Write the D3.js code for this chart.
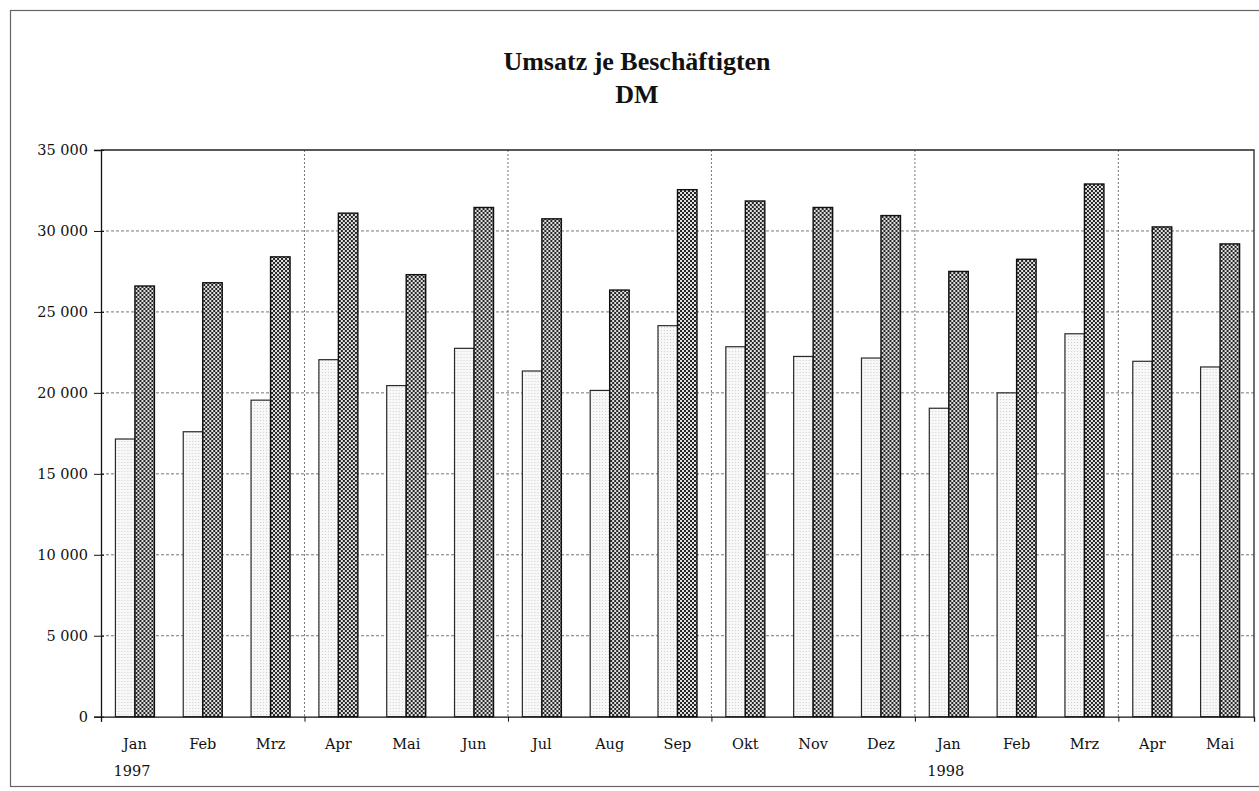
<!DOCTYPE html>
<html>
<head>
<meta charset="utf-8">
<script src="https://cdn.jsdelivr.net/npm/d3@7"></script>
<style>
  html, body { margin: 0; padding: 0; background: #ffffff; }
  svg { display: block; }
</style>
</head>
<body>
<svg id="chart" width="1259" height="791"></svg>
<script>
// Monthly categories, Jan 1997 – Mai 1998
const months = ["Jan","Feb","Mrz","Apr","Mai","Jun","Jul","Aug","Sep","Okt","Nov","Dez","Jan","Feb","Mrz","Apr","Mai"];
// Year shown under the first month of each year
const yearLabels = ["1997","","","","","","","","","","","","1998","","","",""];
// Light bars (first series), DM
const seriesLight = [17150, 17600, 19550, 22050, 20450, 22750, 21350, 20150, 24150, 22850, 22250, 22150, 19050, 20000, 23650, 21950, 21600];
// Dark bars (second series), DM
const seriesDark = [26600, 26800, 28400, 31100, 27300, 31450, 30750, 26350, 32550, 31850, 31450, 30950, 27500, 28250, 32900, 30250, 29200];
// Y axis ticks
const yTicks = [0, 5000, 10000, 15000, 20000, 25000, 30000, 35000];
const titleLines = ["Umsatz je Beschäftigten", "DM"];

const svg = d3.select("#chart");
const plot = { left: 101, top: 150, right: 1254, bottom: 716.7 };

// outer frame
svg.append("rect")
  .attr("x", 10.5).attr("y", 10.5)
  .attr("width", 1262).attr("height", 776)
  .attr("fill", "none").attr("stroke", "#666").attr("stroke-width", 1.2);

// fill patterns
const defs = svg.append("defs");
const pd = defs.append("pattern").attr("id", "dense")
  .attr("patternUnits", "userSpaceOnUse").attr("width", 4).attr("height", 4);
pd.append("rect").attr("width", 4).attr("height", 4).attr("fill", "#e0e0e0");
pd.append("rect").attr("x", 0).attr("y", 0).attr("width", 2).attr("height", 2).attr("fill", "#262626");
pd.append("rect").attr("x", 2).attr("y", 2).attr("width", 2).attr("height", 2).attr("fill", "#262626");

const pl = defs.append("pattern").attr("id", "light")
  .attr("patternUnits", "userSpaceOnUse").attr("width", 3).attr("height", 3);
pl.append("rect").attr("width", 3).attr("height", 3).attr("fill", "#f8f8f8");
pl.append("rect").attr("x", 0).attr("y", 0).attr("width", 1).attr("height", 1).attr("fill", "#cfcfcf");

// scales
const idx = d3.range(months.length);
const y = d3.scaleLinear().domain([0, 35000]).range([plot.bottom, plot.top]);
const xEdge = d3.scaleLinear().domain([0, months.length]).range([plot.left, plot.right]);
const pad = 0.425;
const xBand = d3.scaleBand().domain(idx).range([plot.left, plot.right])
  .paddingInner(pad).paddingOuter(pad / 2);
const xSub = d3.scaleBand().domain(["light", "dark"]).range([0, xBand.bandwidth()]);

// horizontal gridlines
svg.append("g").selectAll("line")
  .data(yTicks.filter(v => v > 0 && v < 35000))
  .join("line")
  .attr("x1", plot.left).attr("x2", plot.right)
  .attr("y1", d => y(d)).attr("y2", d => y(d))
  .attr("stroke", "#777").attr("stroke-width", 1)
  .attr("stroke-dasharray", "3,2");

// vertical gridlines every three months
const vGrid = [3, 6, 9, 12, 15];
svg.append("g").selectAll("line")
  .data(vGrid)
  .join("line")
  .attr("x1", d => xEdge(d)).attr("x2", d => xEdge(d))
  .attr("y1", plot.top).attr("y2", plot.bottom)
  .attr("stroke", "#777").attr("stroke-width", 1)
  .attr("stroke-dasharray", "2,2");

// bars
const groups = svg.append("g").selectAll("g")
  .data(idx)
  .join("g")
  .attr("transform", i => `translate(${xBand(i)},0)`);

groups.append("rect")
  .attr("x", xSub("light"))
  .attr("y", i => y(seriesLight[i]))
  .attr("width", xSub.bandwidth())
  .attr("height", i => y(0) - y(seriesLight[i]))
  .attr("fill", "url(#light)")
  .attr("stroke", "#2a2a2a").attr("stroke-width", 1.2);

groups.append("rect")
  .attr("x", xSub("dark"))
  .attr("y", i => y(seriesDark[i]))
  .attr("width", xSub.bandwidth())
  .attr("height", i => y(0) - y(seriesDark[i]))
  .attr("fill", "url(#dense)")
  .attr("stroke", "#111").attr("stroke-width", 1.4);

// plot frame top and right
svg.append("path")
  .attr("d", `M${plot.left},${plot.top}H${plot.right}V${plot.bottom}`)
  .attr("fill", "none").attr("stroke", "#222").attr("stroke-width", 1.3);

// y axis
const yAxis = svg.append("g")
  .attr("transform", `translate(${plot.left},0)`)
  .call(d3.axisLeft(y).tickValues(yTicks).tickSize(7).tickPadding(6)
    .tickFormat(v => d3.format(",")(v).replace(/,/g, " ")));
yAxis.select(".domain").attr("stroke", "#111").attr("stroke-width", 1.3);
yAxis.selectAll(".tick line").attr("stroke", "#111").attr("x2", -7).attr("x1", 3);
yAxis.selectAll(".tick text")
  .attr("font-family", "'DejaVu Serif', serif").attr("font-size", 14.5)
  .attr("fill", "#111");

// x axis line with ticks at quarter boundaries
const xTicks = svg.append("g")
  .attr("transform", `translate(0,${plot.bottom})`)
  .call(d3.axisBottom(xEdge).tickValues([0, 3, 6, 9, 12, 15]).tickSize(5).tickFormat(""));
xTicks.select(".domain").attr("stroke", "#111").attr("stroke-width", 1.3);
xTicks.selectAll(".tick line").attr("stroke", "#111");

// month labels
const xLabels = svg.append("g")
  .attr("transform", `translate(0,${plot.bottom})`)
  .call(d3.axisBottom(xBand).tickSize(0).tickPadding(22).tickFormat(i => months[i]));
xLabels.select(".domain").remove();
xLabels.selectAll(".tick text")
  .attr("font-family", "'DejaVu Serif', serif").attr("font-size", 14.5)
  .attr("fill", "#111");

// year labels under the first month of each year
svg.append("g").selectAll("text")
  .data(idx.filter(i => yearLabels[i]))
  .join("text")
  .attr("x", i => xBand(i) + xBand.bandwidth() / 2 - 3)
  .attr("y", plot.bottom + 59)
  .attr("text-anchor", "middle")
  .attr("font-family", "'DejaVu Serif', serif").attr("font-size", 14.5)
  .attr("fill", "#111")
  .text(i => yearLabels[i]);

// title
svg.append("g").selectAll("text")
  .data(titleLines)
  .join("text")
  .attr("x", 637)
  .attr("y", (d, i) => 70 + i * 33)
  .attr("text-anchor", "middle")
  .attr("font-family", "'Liberation Serif', 'Times New Roman', serif")
  .attr("font-weight", "bold")
  .attr("font-size", 26)
  .attr("fill", "#111")
  .text(d => d);
</script>
</body>
</html>
